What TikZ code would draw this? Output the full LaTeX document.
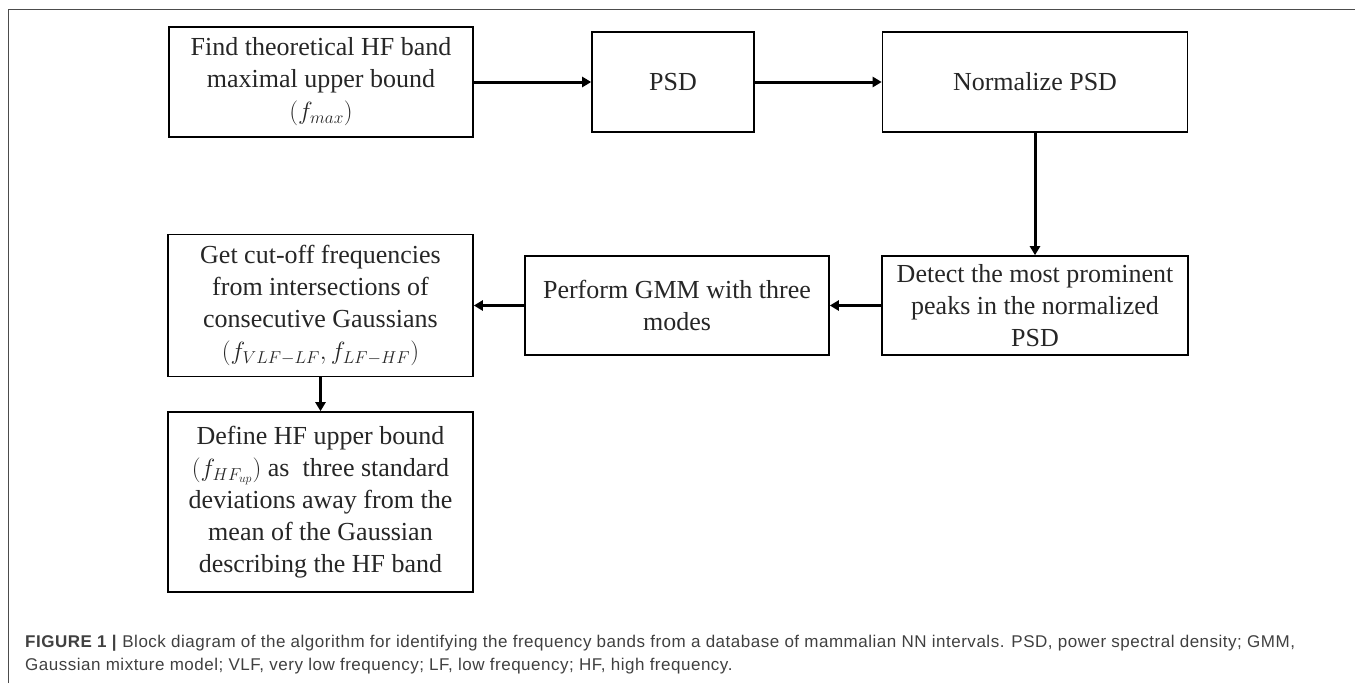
\documentclass[tikz,border=0pt]{standalone}
\usepackage{fontspec}
\setmainfont{Liberation Serif}
\newfontfamily\capfont[LetterSpace=3]{Liberation Sans}
\usetikzlibrary{arrows.meta}
\tikzset{
  blockbox/.style={draw=black, line width=1.6pt, inner sep=0pt, align=center,
    font=\fontsize{26}{32}\selectfont, text=black!85},
  flow/.style={line width=3pt, -{Triangle[length=9pt,width=10pt]}},
  captext/.style={inner sep=0pt, align=left, text=black!75,
    font=\capfont\fontsize{17}{23}\selectfont},
}
\begin{document}
\begin{tikzpicture}[x=1pt,y=-1pt]
\useasboundingbox (0,0) rectangle (1355,683);
% frame
\draw[black!70, line width=1pt] (8,683) |- (1355,9);
% top row
\node[blockbox, minimum width=304pt, minimum height=110pt] (fmax) at (321,82)
  {Find theoretical HF band\\maximal upper bound\\$(f_{max})$};
\node[blockbox, minimum width=162pt, minimum height=100pt] (psd) at (673,82) {PSD};
\node[blockbox, minimum width=305pt, minimum height=100pt] (norm) at (1035,82) {Normalize PSD};
% middle row
\node[blockbox, minimum width=306pt, minimum height=99pt] (peaks) at (1035,305.5)
  {Detect the most prominent\\peaks in the normalized\\PSD};
\node[blockbox, minimum width=304pt, minimum height=99pt] (gmm) at (677,305.5)
  {Perform GMM with three\\modes};
\node[blockbox, minimum width=305pt, minimum height=142pt] (cutoff) at (320.5,305.5)
  {Get cut-off frequencies\\from intersections of\\consecutive Gaussians\\$(f_{VLF-LF}, f_{LF-HF})$};
% bottom
\node[blockbox, minimum width=305pt, minimum height=180pt] (hfup) at (320.5,502)
  {Define HF upper bound\\$(f_{HF_{up}})$ as~ three standard\\deviations away from the\\mean of the Gaussian\\describing the HF band};
% arrows
\draw[flow] (fmax) -- (psd);
\draw[flow] (psd) -- (norm);
\draw[flow] (norm) -- (peaks);
\draw[flow] (peaks) -- (gmm);
\draw[flow] (gmm) -- (cutoff);
\draw[flow] (cutoff) -- (hfup);
% caption
\node[captext, anchor=north west] (caption) at (25,635)
  {\textbf{FIGURE 1 |} Block diagram of the algorithm for identifying the frequency bands from a database of mammalian NN intervals. PSD, power spectral density; GMM,\\
   Gaussian mixture model; VLF, very low frequency; LF, low frequency; HF, high frequency.};
\end{tikzpicture}
\end{document}
